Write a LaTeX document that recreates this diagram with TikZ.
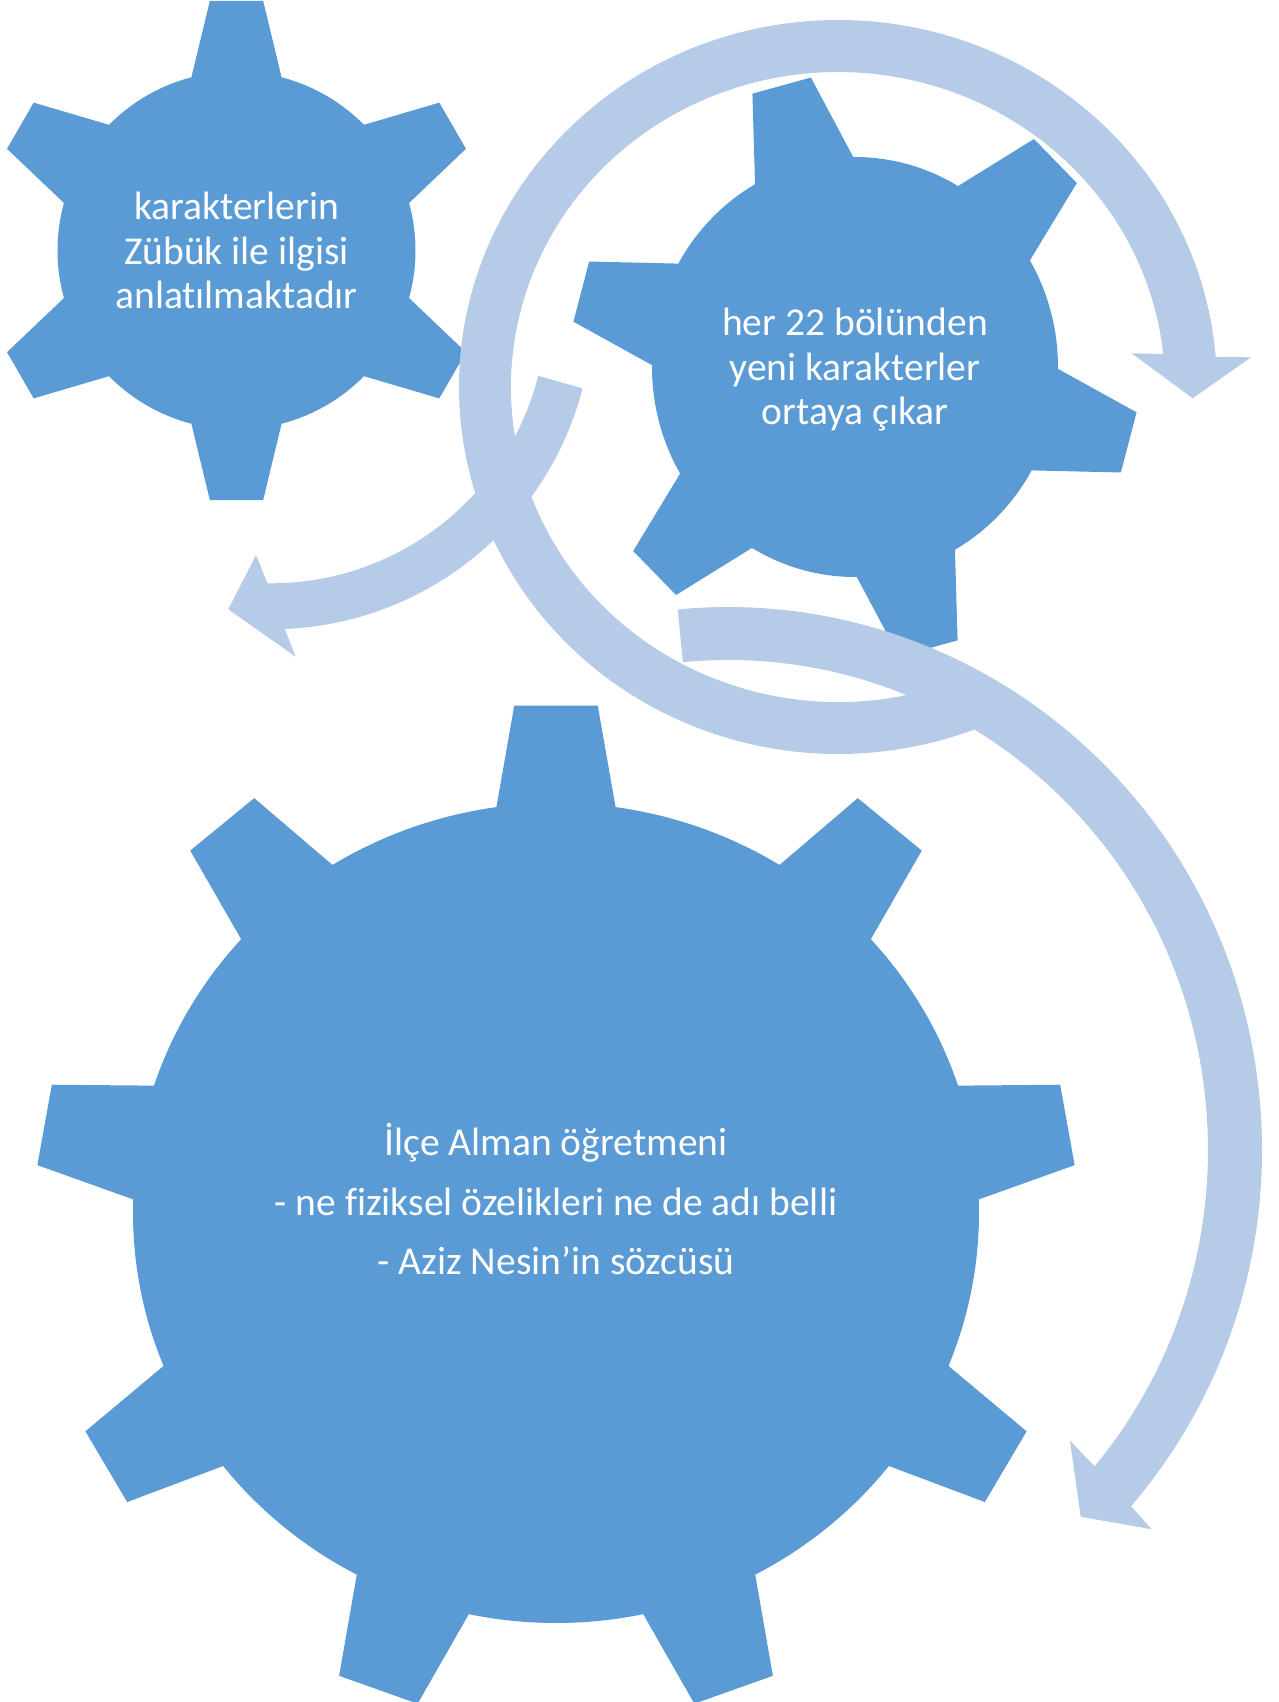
\documentclass[tikz,border=0pt]{standalone}
\usepackage{fontspec}
\setmainfont{Carlito}[Ligatures=NoCommon]
\usetikzlibrary{calc}
\definecolor{gearblue}{RGB}{91,155,213}
\definecolor{arrowblue}{RGB}{182,203,231}

\begin{document}
		\begin{tikzpicture}[x=0.2mm,y=-0.2mm,
			gear/.style={fill=gearblue},
			band/.style={fill=arrowblue},
			caption/.style={text=white,align=center,font=\fontsize{22.5}{25.3}\selectfont}]
			\useasboundingbox (0,0) rectangle (1279,1702);
			\clip (0,0) rectangle (1279,1702);
			\coordinate (g1) at (236.5,250.5);
			\coordinate (g2) at (855,367);
			\coordinate (g3) at (556,1213);
			\coordinate (cA) at (838,387);
			\coordinate (cB) at (271.3,307.8);
			\coordinate (cC) at (728,1150);
			\fill[gear,shift={(g1)}] (15.4:179) \foreach \a in {30,90,...,330} {-- (\a-6.1:251) -- (\a+6.1:251) -- (\a+14.6:179) arc[start angle=\a+14.6,end angle=\a+45.4,radius=179]} -- cycle;
			\fill[gear,shift={(g2)}] (0.5:203 and 210) \foreach \a in {15,75,...,315} {-- (\a-6.1:285 and 293) -- (\a+6.1:285 and 293) -- (\a+14.5:203 and 210) arc[start angle=\a+14.5,end angle=\a+45.5,x radius=203,y radius=210]} -- cycle;
			\fill[gear,shift={(g3)}] (21.9:423 and 410) \foreach \a in {30,70,...,350} {-- (\a-4.6:521 and 509) -- (\a+4.6:521 and 509) -- (\a+8.1:423 and 410) arc[start angle=\a+8.1,end angle=\a+31.9,x radius=423,y radius=410]} -- cycle;
			\fill[band] ($(cA)+(66:327 and 315)$) arc[start angle=66,end angle=354,x radius=327,y radius=315] -- (1131.7,353.3) -- (1192.7,398.3) -- (1251,357.3) -- ($(cA)+(355.3:379 and 367)$) arc[start angle=355.3,end angle=66,x radius=379,y radius=367] -- cycle;
			\fill[band] ($(cB)+(14.3:275.5)$) arc[start angle=14.3,end angle=90.8,radius=275.5] -- (256,555) -- (228.3,609.3) -- (295.7,656.7) -- ($(cB)+(87.6:321.5)$) arc[start angle=87.6,end angle=14.5,radius=321.5] -- cycle;
			\fill[band] ($(cC)+(-95.4:480 and 490)$) arc[start angle=-95.4,end angle=40.2,x radius=480,y radius=490] -- (1070,1440.7) -- (1080.7,1516.7) -- (1151.7,1529.3) -- ($(cC)+(41:534 and 543)$) arc[start angle=41,end angle=-95.4,x radius=534,y radius=543] -- cycle;
			\node[caption] (t1) at (g1) {karakterlerin\\Zübük ile ilgisi\\anlatılmaktadır};
			\node[caption] (t2) at (855,370) {her 22 bölünden\\yeni karakterler\\ortaya çıkar};
			\node[caption,font=\fontsize{22.5}{34}\selectfont] (t3) at (556,1199) {İlçe Alman öğretmeni\\- ne fiziksel özelikleri ne de adı belli\\- Aziz Nesin’in sözcüsü};
		\end{tikzpicture}
\end{document}
